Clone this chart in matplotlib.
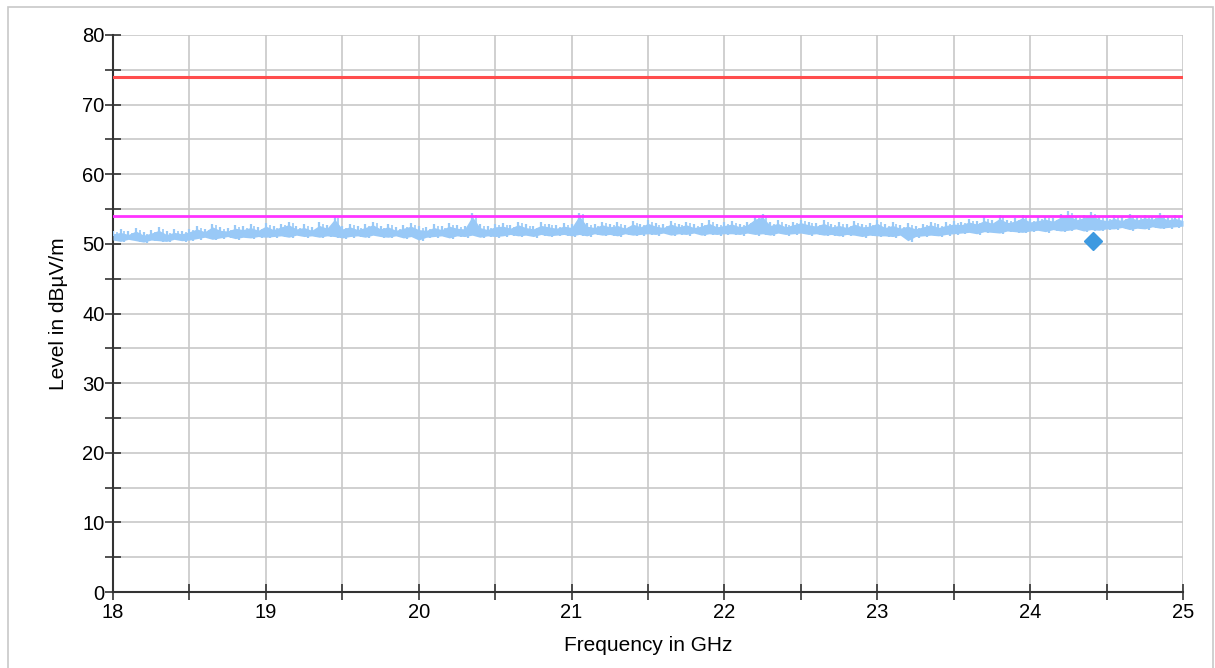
import numpy as np
import matplotlib
matplotlib.use("Agg")
import matplotlib.pyplot as plt
from matplotlib.patches import Rectangle

plt.rcParams['font.family'] = ['Liberation Sans', 'DejaVu Sans']

# Frequency grid of the measured trace (GHz), step 0.05
freq_start, freq_stop, freq_step = 18.0, 25.0, 0.05

# Peak (upper) and trough (lower) levels of the noisy trace, dBµV/m, read per 0.05 GHz
trace_hi = [
    51.9, 52.1, 51.8, 52.3, 51.7, 52.0, 52.4, 51.8, 52.1, 51.9, 52.2,
    52.6, 52.2, 52.9, 52.4, 52.3, 52.7, 52.5, 52.8, 52.4, 53.0,
    52.5, 52.9, 53.2, 52.6, 52.8, 52.4, 53.1, 52.7, 54.0, 52.6,
    52.9, 52.5, 52.8, 53.2, 52.6, 52.9, 52.4, 52.7, 53.0, 52.5,
    52.4, 52.8, 52.5, 53.0, 52.7, 52.6, 54.4, 52.8, 52.5, 52.9,
    53.0, 52.7, 53.2, 52.8, 52.6, 53.1, 52.9, 52.7, 53.0, 52.8,
    54.5, 53.0, 52.8, 53.2, 52.9, 53.1, 52.7, 53.3, 52.9, 53.4,
    53.0, 52.8, 53.3, 52.9, 53.2, 52.8, 53.0, 53.4, 52.9, 53.1,
    53.3, 52.9, 53.2, 54.0, 54.3, 53.1, 53.4, 52.9, 53.2, 53.5,
    53.2, 53.0, 53.4, 52.9, 53.1, 52.8, 53.3, 52.9, 53.0, 53.4,
    52.8, 53.1, 52.7, 53.0, 52.6, 52.9, 53.2, 52.8, 53.1, 53.3,
    53.2, 53.6, 53.3, 53.8, 53.4, 54.1, 53.5, 53.7, 54.2, 53.6,
    53.8, 54.0, 53.7, 54.3, 54.7, 53.9, 54.2, 54.6, 54.0, 53.8,
    54.1, 53.8, 54.3, 53.9, 54.2, 54.0, 54.4, 53.9, 54.1, 53.8,
]
trace_lo = [
    50.4, 50.2, 50.5, 50.3, 50.1, 50.4, 50.3, 50.2, 50.5, 50.3, 50.4,
    50.6, 50.8, 50.5, 50.7, 50.9, 50.6, 50.8, 50.7, 50.9, 50.8,
    50.9, 51.0, 50.8, 51.1, 50.9, 51.0, 50.8, 51.0, 50.9, 50.7,
    50.9, 51.0, 50.8, 51.1, 50.9, 50.8, 51.0, 50.7, 50.9, 50.4,
    50.8, 50.9, 51.0, 50.7, 51.0, 50.9, 51.1, 50.8, 51.0, 50.9,
    51.0, 51.2, 51.0, 51.1, 50.9, 51.2, 51.0, 51.1, 51.2, 51.0,
    51.2, 51.0, 51.3, 51.1, 51.2, 51.0, 51.3, 51.1, 51.2, 51.3,
    51.2, 51.4, 51.1, 51.3, 51.2, 51.4, 51.1, 51.3, 51.2, 51.3,
    51.3, 51.2, 51.4, 51.2, 51.3, 51.1, 51.4, 51.2, 51.3, 51.4,
    51.2, 51.3, 51.1, 51.2, 51.0, 51.2, 51.1, 50.9, 51.1, 51.0,
    51.0, 50.9, 51.1, 50.3, 50.9, 51.0, 51.1, 51.0, 51.2, 51.3,
    51.4, 51.5, 51.3, 51.6, 51.5, 51.4, 51.7, 51.6, 51.5, 51.7,
    51.8, 51.6, 51.9, 51.7, 51.8, 52.0, 51.7, 51.9, 51.8, 52.0,
    52.0, 52.2, 51.9, 52.1, 52.0, 52.3, 52.1, 52.2, 52.3, 52.4,
]

# Limit lines (dBµV/m)
limit_peak = 74.0
limit_avg = 54.0

# Final measurement marker
marker_freq = [24.41]
marker_level = [50.4]

x_ticks = [18, 19, 20, 21, 22, 23, 24, 25]
y_ticks = [0, 10, 20, 30, 40, 50, 60, 70, 80]

fig = plt.figure(figsize=(12.15, 6.68), dpi=100)
fig.patches.append(Rectangle((8 / 1215, -0.05), (1213 - 8) / 1215, 1.05 - 7 / 668,
                             transform=fig.transFigure, fill=False,
                             edgecolor='#c8c8c8', linewidth=1.2))
ax = fig.add_axes([113 / 1215, (668 - 592) / 668, (1183 - 113) / 1215, (592 - 35) / 668])

trace_color = '#99c9f7'
n = len(trace_hi)
f = freq_start + freq_step * np.arange(n)
hi = np.array(trace_hi)
lo = np.array(trace_lo)
mid = (hi + lo) / 2
f_q = f + freq_step / 2
keep = f_q <= freq_stop

# dense core of the noise band
ax.fill_between(f, lo + 0.15, hi - 0.45, color=trace_color, linewidth=0, zorder=3)
# peak spikes and trough spikes
ax.vlines(f, mid, hi, color=trace_color, linewidth=1.6, zorder=3)
ax.vlines(f_q[keep], lo[keep], mid[keep] + 0.2, color=trace_color, linewidth=1.6, zorder=3)
ax.vlines(f_q[keep], mid[keep], hi[keep] - 0.25, color=trace_color, linewidth=1.2, zorder=3)

ax.axhline(limit_peak, color='#ff4d4d', linewidth=2.2, zorder=4)
ax.axhline(limit_avg, color='#ff33ff', linewidth=2.0, zorder=4)
ax.plot(marker_freq, marker_level, linestyle='none', marker='D', markersize=9,
        color='#3d99e0', zorder=5)

ax.set_xlim(freq_start, freq_stop)
ax.set_ylim(0, 80)
ax.set_xticks(x_ticks)
ax.set_yticks(y_ticks)
ax.set_xticks(np.arange(18.5, 25, 1.0), minor=True)
ax.set_yticks(np.arange(5, 80, 10), minor=True)
ax.grid(True, which='both', color='#c8c8c8', linewidth=1.2, zorder=0)
ax.set_axisbelow(True)

for s in ['top', 'right']:
    ax.spines[s].set_visible(False)
for s in ['left', 'bottom']:
    ax.spines[s].set_color('#333333')
    ax.spines[s].set_linewidth(1.5)

ax.tick_params(which='both', direction='inout', length=12, width=1.2, color='#333333',
               labelsize=14.5, pad=2)
ax.tick_params(axis='y', which='both', pad=0)
ax.set_xlabel('Frequency in GHz', fontsize=15, labelpad=10)
ax.set_ylabel('Level in dBµV/m', fontsize=15, labelpad=10)

fig.savefig('out.png', dpi=100)
